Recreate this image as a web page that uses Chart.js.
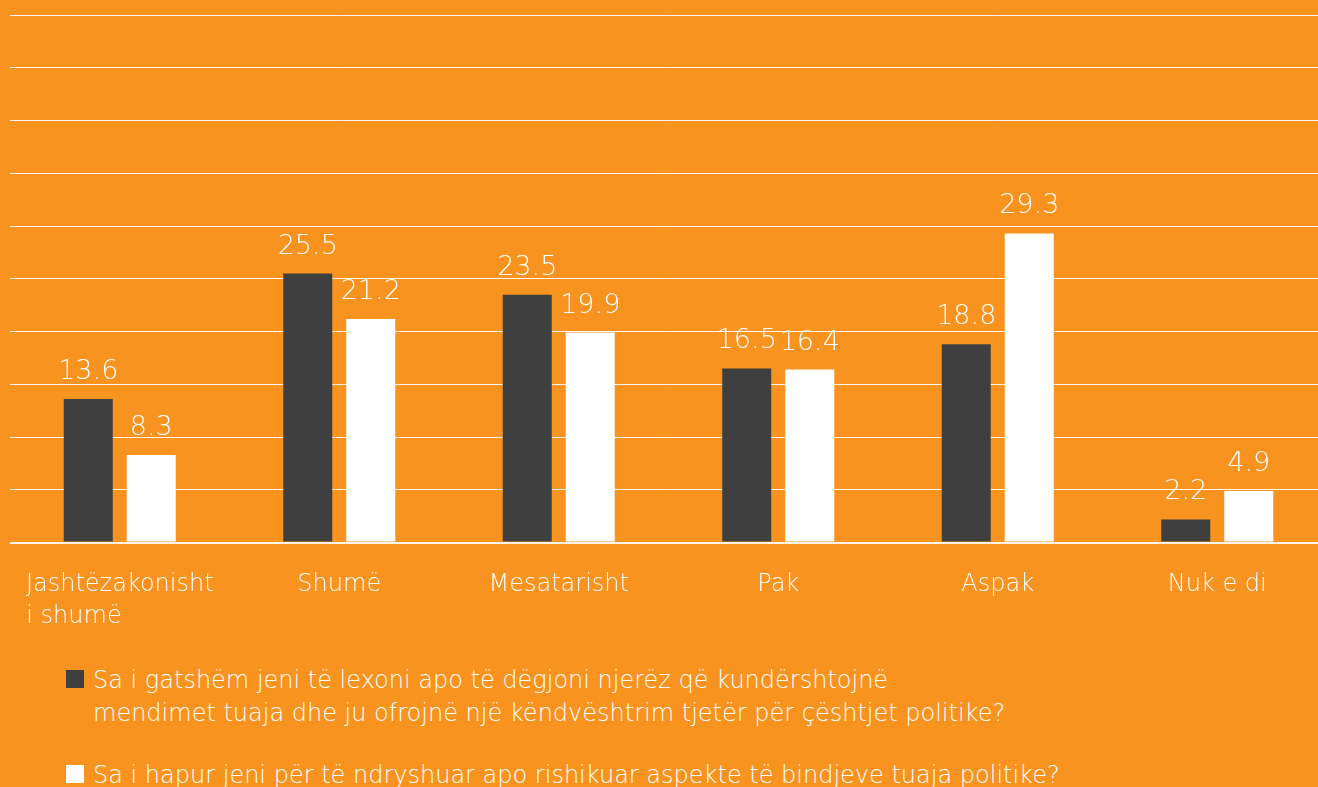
<!DOCTYPE html>
<html>
<head>
<meta charset="utf-8">
<script src="https://cdn.jsdelivr.net/npm/chart.js@4.4.1/dist/chart.umd.min.js"></script>
<style>
  html, body { margin: 0; padding: 0; background: #F7931E; width: 1318px; height: 787px; overflow: hidden; }
  #wrap { position: absolute; left: 0; top: 0; width: 1327px; height: 661px; }
  .leg { position: absolute; left: 66px; color: #fff; font-family: "DejaVu Sans", sans-serif; font-weight: 200; font-size: 24px; line-height: 33px; }
  .leg .box { position: absolute; left: 0; width: 18px; height: 18px; }
  .leg .txt { position: absolute; left: 27px; white-space: nowrap; }
</style>
</head>
<body>
<div id="wrap"><canvas id="c"></canvas></div>
<div class="leg" id="leg1" style="top:670px"><div class="box" style="top:0;background:#3F3F3F"></div><div class="txt" style="top:-6px">Sa i gatshëm jeni të lexoni apo të dëgjoni njerëz që kundërshtojnë<br>mendimet tuaja dhe ju ofrojnë një këndvështrim tjetër për çështjet politike?</div></div>
<div class="leg" id="leg2" style="top:765px"><div class="box" style="top:0;background:#FFFFFF"></div><div class="txt" style="top:-6px">Sa i hapur jeni për të ndryshuar apo rishikuar aspekte të bindjeve tuaja politike?</div></div>
<script>
const categories = [["Jashtëzakonisht", "i shumë"], "Shumë", "Mesatarisht", "Pak", "Aspak", "Nuk e di"];
const seriesNames = [
  "Sa i gatshëm jeni të lexoni apo të dëgjoni njerëz që kundërshtojnë mendimet tuaja dhe ju ofrojnë një këndvështrim tjetër për çështjet politike?",
  "Sa i hapur jeni për të ndryshuar apo rishikuar aspekte të bindjeve tuaja politike?"
];
const readinessValues = [13.6, 25.5, 23.5, 16.5, 18.8, 2.2];
const opennessValues = [8.3, 21.2, 19.9, 16.4, 29.3, 4.9];
const yTicks = [0, 5, 10, 15, 20, 25, 30, 35, 40, 45, 50];

const FONT = '"DejaVu Sans"';
const TICK_FONT = { family: FONT, size: 24, weight: 200, lineHeight: 1.3 };

// left-align the lines of a multi-line category label by padding the shorter line with spaces
function leftAlignLines(lines) {
  if (!Array.isArray(lines)) return lines;
  const cx = document.createElement('canvas').getContext('2d');
  cx.font = TICK_FONT.weight + ' ' + TICK_FONT.size + 'px ' + FONT;
  const widths = lines.map(l => cx.measureText(l).width);
  const maxW = Math.max(...widths);
  const sp = cx.measureText('\u00A0').width;
  return lines.map((l, i) => l + '\u00A0'.repeat(Math.max(0, Math.round((maxW - widths[i]) / sp))));
}

const valueLabels = {
  id: 'valueLabels',
  afterDatasetsDraw(chart) {
    const ctx = chart.ctx;
    ctx.save();
    ctx.fillStyle = '#FFFFFF';
    ctx.font = '200 27px ' + FONT;
    ctx.textAlign = 'center';
    ctx.textBaseline = 'alphabetic';
    chart.data.datasets.forEach((ds, i) => {
      const meta = chart.getDatasetMeta(i);
      meta.data.forEach((bar, j) => {
        ctx.fillText(ds.data[j].toFixed(1), bar.x, bar.y - 20);
      });
    });
    ctx.restore();
  }
};

new Chart(document.getElementById('c'), {
  type: 'bar',
  data: {
    labels: categories.map(leftAlignLines),
    datasets: [
      { label: seriesNames[0], data: readinessValues, backgroundColor: '#3F3F3F', categoryPercentage: 0.574, barPercentage: 0.778 },
      { label: seriesNames[1], data: opennessValues, backgroundColor: '#FFFFFF', categoryPercentage: 0.574, barPercentage: 0.778 }
    ]
  },
  options: {
    responsive: true,
    maintainAspectRatio: false,
    animation: false,
    layout: { padding: { left: 10, right: 0, top: 15, bottom: 10 } },
    plugins: { legend: { display: false }, tooltip: { enabled: false } },
    scales: {
      x: {
        grid: { display: false },
        border: { display: false },
        ticks: { color: '#FFFFFF', padding: 19, maxRotation: 0, autoSkip: false, font: TICK_FONT }
      },
      y: {
        min: 0, max: 50,
        afterBuildTicks(axis) { axis.ticks = yTicks.map(v => ({ value: v })); },
        ticks: { display: false },
        border: { display: false },
        grid: { color: 'rgba(255,255,255,0.9)', lineWidth: ctx => ctx.tick && ctx.tick.value === 0 ? 2 : 1, drawTicks: false }
      }
    }
  },
  plugins: [valueLabels]
});
</script>
</body>
</html>
